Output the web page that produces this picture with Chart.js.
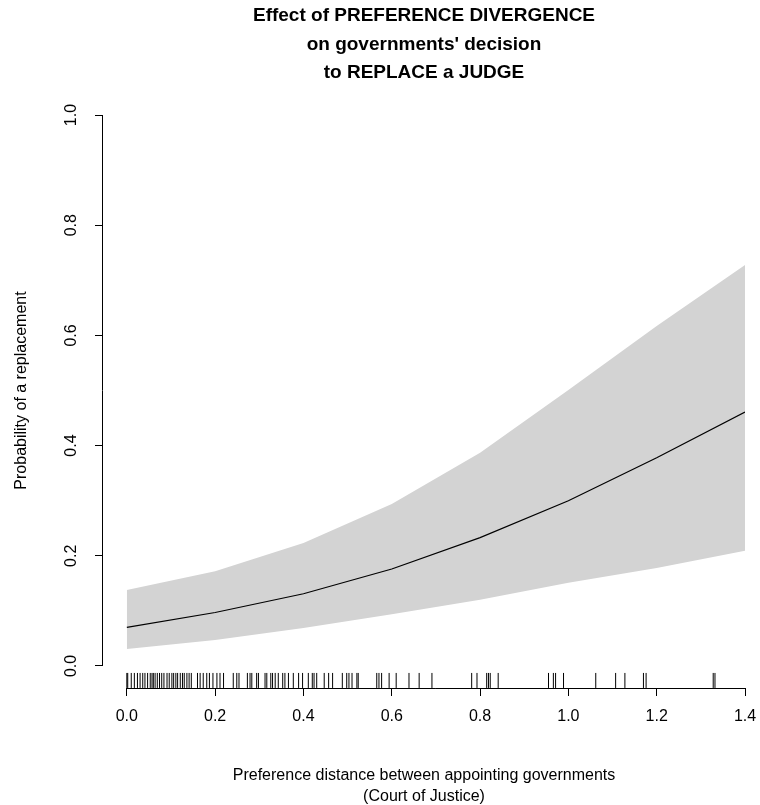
<!DOCTYPE html>
<html lang="en">
<head>
    <meta charset="UTF-8">
    <title>Effect of preference divergence</title>
    <script src="https://cdn.jsdelivr.net/npm/chart.js"></script>
    <style>
        html, body { margin: 0; padding: 0; background: #fff; }
        .chart-container { position: relative; width: 760px; height: 805px; }
    </style>
</head>
<body>
    <div class="chart-container">
        <canvas id="myChart" width="760" height="805"></canvas>
    </div>
    <script type="text/javascript">
        // preference distance grid and predicted probability of a replacement
        const distance = [0.0, 0.2, 0.4, 0.6, 0.8, 1.0, 1.2, 1.4];
        const prob     = [0.070, 0.097, 0.131, 0.176, 0.233, 0.300, 0.378, 0.461];
        const upper    = [0.138, 0.172, 0.223, 0.294, 0.387, 0.501, 0.617, 0.728];
        const lower    = [0.031, 0.047, 0.069, 0.094, 0.120, 0.151, 0.178, 0.209];

        // observed distances (rug)
        const observed = [
            0.000, 0.002, 0.010, 0.017, 0.024, 0.030, 0.036, 0.041, 0.047, 0.053,
            0.057, 0.060, 0.064, 0.069, 0.074, 0.079, 0.084, 0.091, 0.096, 0.102,
            0.106, 0.111, 0.115, 0.121, 0.126, 0.130, 0.136, 0.141, 0.146, 0.160,
            0.166, 0.173, 0.181, 0.187, 0.195, 0.204, 0.211, 0.219, 0.241, 0.249,
            0.254, 0.273, 0.279, 0.283, 0.294, 0.298, 0.313, 0.317, 0.326, 0.330,
            0.336, 0.343, 0.353, 0.358, 0.366, 0.377, 0.389, 0.398, 0.411, 0.420,
            0.424, 0.430, 0.447, 0.457, 0.466, 0.488, 0.498, 0.503, 0.510, 0.521,
            0.524, 0.566, 0.571, 0.577, 0.594, 0.610, 0.639, 0.662, 0.691, 0.781,
            0.793, 0.815, 0.819, 0.823, 0.841, 0.955, 0.966, 0.971, 0.989, 1.062,
            1.107, 1.128, 1.170, 1.176, 1.328, 1.332
        ];

        const xTicks = [0.0, 0.2, 0.4, 0.6, 0.8, 1.0, 1.2, 1.4];
        const yTicks = [0.0, 0.2, 0.4, 0.6, 0.8, 1.0];

        const RUG_Y = -0.0263;
        const pts = arr => distance.map((d, i) => ({x: d, y: arr[i]}));

        Chart.defaults.font.family = "'Liberation Sans', Arial, Helvetica, sans-serif";
        Chart.defaults.color = '#000';

        // R style axis lines: only span first to last tick
        const axisLines = {
            id: 'axisLines',
            afterDraw(chart) {
                const {ctx, scales: {x, y}, chartArea} = chart;
                ctx.save();
                ctx.strokeStyle = '#000';
                ctx.lineWidth = 1;
                ctx.beginPath();
                const by = Math.round(chartArea.bottom) + 0.5;
                ctx.moveTo(x.getPixelForValue(xTicks[0]), by);
                ctx.lineTo(x.getPixelForValue(xTicks[xTicks.length - 1]), by);
                const lx = Math.round(chartArea.left) - 0.5;
                ctx.moveTo(lx, y.getPixelForValue(yTicks[0]));
                ctx.lineTo(lx, y.getPixelForValue(yTicks[yTicks.length - 1]));
                ctx.stroke();
                ctx.restore();
            }
        };

        const ctx = document.getElementById('myChart').getContext('2d');
        const myChart = new Chart(ctx, {
            type: 'line',
            data: {
                datasets: [
                    {
                        data: pts(prob),
                        borderColor: '#000',
                        borderWidth: 1.2,
                        pointRadius: 0,
                        fill: false
                    },
                    {
                        data: pts(upper),
                        borderWidth: 0,
                        borderColor: 'rgba(0,0,0,0)',
                        backgroundColor: '#d3d3d3',
                        pointRadius: 0,
                        fill: '+1'
                    },
                    {
                        data: pts(lower),
                        borderWidth: 0,
                        borderColor: 'rgba(0,0,0,0)',
                        pointRadius: 0,
                        fill: false
                    },
                    {
                        data: observed.map(v => ({x: v, y: RUG_Y})),
                        showLine: false,
                        pointStyle: 'line',
                        rotation: 90,
                        pointRadius: 7.5,
                        pointBorderWidth: 1,
                        pointBorderColor: '#000',
                        borderColor: '#000'
                    }
                ]
            },
            options: {
                responsive: false,
                animation: false,
                layout: { padding: { left: 0, right: 15, top: 0, bottom: 0 } },
                plugins: {
                    legend: { display: false },
                    tooltip: { enabled: false },
                    title: {
                        display: true,
                        fullSize: false,
                        text: ['Effect of PREFERENCE DIVERGENCE', "on governments' decision", 'to REPLACE a JUDGE'],
                        font: { size: 19, weight: 'bold', lineHeight: 1.5 },
                        color: '#000',
                        padding: { top: 2, bottom: 5.5 }
                    }
                },
                scales: {
                    x: {
                        type: 'linear',
                        min: -0.054,
                        max: 1.4,
                        afterBuildTicks: s => { s.ticks = xTicks.map(v => ({value: v})); },
                        afterFit: s => { s.height = 117; s.paddingLeft = 0; s.paddingRight = 0; },
                        border: { display: false },
                        grid: { drawOnChartArea: false, drawTicks: true, tickLength: 8, color: '#000' },
                        ticks: {
                            font: { size: 16 },
                            padding: 11,
                            maxRotation: 0,
                            autoSkip: false,
                            callback: v => v.toFixed(1)
                        },
                        title: {
                            display: true,
                            text: ['Preference distance between appointing governments', '(Court of Justice)'],
                            font: { size: 16, lineHeight: 1.3 },
                            padding: { top: 0, bottom: -2 }
                        }
                    },
                    y: {
                        type: 'linear',
                        min: -0.04,
                        max: 1.04,
                        afterBuildTicks: s => { s.ticks = yTicks.map(v => ({value: v})); },
                        afterFit: s => { s.width = 103; s.paddingTop = 0; s.paddingBottom = 0; },
                        border: { display: false },
                        grid: { drawOnChartArea: false, drawTicks: true, tickLength: 8, color: '#000' },
                        ticks: {
                            font: { size: 16 },
                            padding: 12,
                            minRotation: 90,
                            maxRotation: 90,
                            autoSkip: false,
                            crossAlign: 'center',
                            callback: v => v.toFixed(1)
                        },
                        title: {
                            display: true,
                            text: 'Probability of a replacement',
                            font: { size: 16 },
                            padding: { top: 12, bottom: 0 }
                        }
                    }
                }
            },
            plugins: [axisLines]
        });
    </script>
</body>
</html>
